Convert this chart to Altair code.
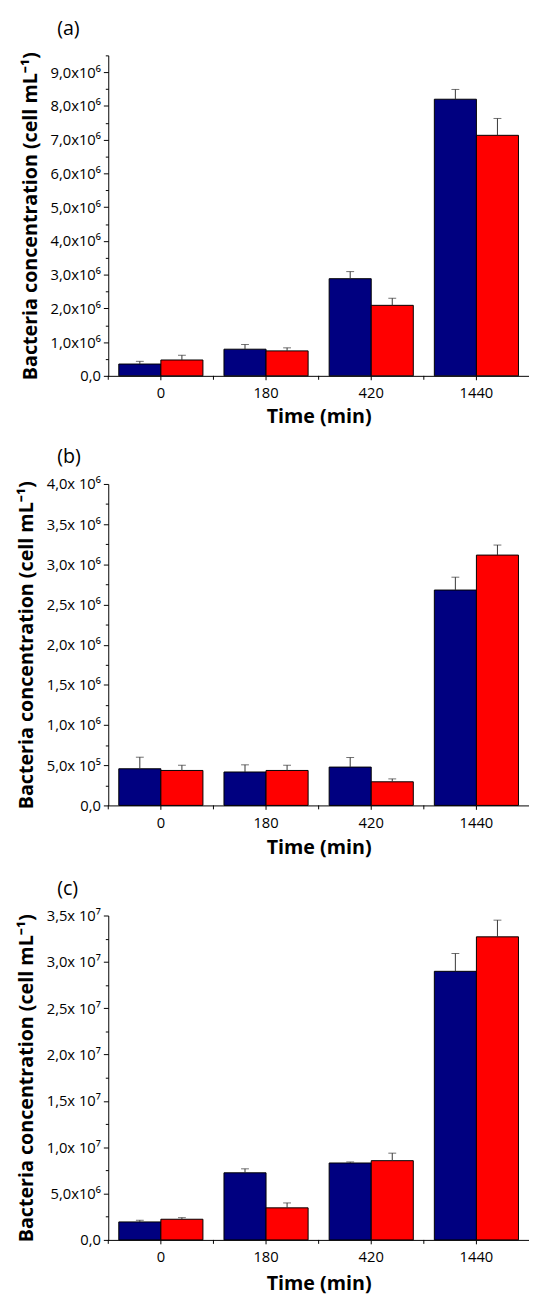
import altair as alt
import pandas as pd

times = ["0", "180", "420", "1440"]
series_names = ["Series 1", "Series 2"]
colors = ["#000080", "#FF0000"]

# Panel (a)
a_s1 = [0.35e6, 0.79e6, 2.88e6, 8.20e6]
a_s1_err = [0.08e6, 0.14e6, 0.21e6, 0.29e6]
a_s2 = [0.47e6, 0.74e6, 2.09e6, 7.13e6]
a_s2_err = [0.14e6, 0.09e6, 0.21e6, 0.50e6]

# Panel (b)
b_s1 = [0.456e6, 0.416e6, 0.477e6, 2.68e6]
b_s1_err = [0.144e6, 0.089e6, 0.119e6, 0.16e6]
b_s2 = [0.435e6, 0.435e6, 0.294e6, 3.115e6]
b_s2_err = [0.065e6, 0.065e6, 0.036e6, 0.125e6]

# Panel (c)
c_s1 = [1.94e6, 7.24e6, 8.30e6, 28.98e6]
c_s1_err = [0.18e6, 0.43e6, 0.11e6, 1.92e6]
c_s2 = [2.23e6, 3.46e6, 8.55e6, 32.7e6]
c_s2_err = [0.17e6, 0.53e6, 0.81e6, 1.80e6]

FONT = "Open Sans"
W = 428
YTITLE = "Bacteria concentration (cell mL\u207b\u00b9)"


def make_df(s1, e1, s2, e2):
    rows = []
    for i, t in enumerate(times):
        rows.append({"time": t, "series": series_names[0], "value": s1[i], "upper": s1[i] + e1[i]})
        rows.append({"time": t, "series": series_names[1], "value": s2[i], "upper": s2[i] + e2[i]})
    return pd.DataFrame(rows)


def panel(df, label, height, ymax, minor, major, label_body, xtitle_pad=6):
    test = f"abs(datum.value/{major} - round(datum.value/{major})) < 1e-6"
    lexpr = f"!({test}) ? '' : datum.value == 0 ? '0,0' : {label_body}"
    xaxis = alt.Axis(title="Time (min)", labelAngle=0, tickSize=4,
                     labelPadding=6, titlePadding=xtitle_pad)
    xscale = alt.Scale(paddingInner=0, paddingOuter=0)
    xoff = alt.XOffset("series:N", sort=series_names,
                       scale=alt.Scale(paddingOuter=0.25, paddingInner=0))
    yscale = alt.Scale(domain=[0, ymax], nice=False, zero=True)
    yaxis = alt.Axis(
        title=YTITLE,
        values=[float(v) for v in range(0, int(ymax) + 1, int(minor))],
        labelExpr=lexpr,
        labelOverlap=False,
        tickSize={"condition": {"test": test, "value": 5}, "value": 3},
        grid=False, labelPadding=3, titlePadding=10,
    )
    base = alt.Chart(df)
    bars = base.mark_bar(stroke="black", strokeWidth=1).encode(
        x=alt.X("time:N", sort=times, scale=xscale, axis=xaxis), xOffset=xoff,
        y=alt.Y("value:Q", scale=yscale, axis=yaxis),
        color=alt.Color("series:N", scale=alt.Scale(domain=series_names, range=colors), legend=None),
    )
    err = base.mark_rule(color="#333333", strokeWidth=1).encode(
        x=alt.X("time:N", sort=times, scale=xscale, axis=xaxis), xOffset=xoff,
        y=alt.Y("upper:Q", scale=yscale, axis=yaxis), y2="value:Q",
    )
    cap = base.mark_tick(color="#333333", thickness=1, size=8, orient="horizontal").encode(
        x=alt.X("time:N", sort=times, scale=xscale, axis=xaxis), xOffset=xoff,
        y=alt.Y("upper:Q", scale=yscale, axis=yaxis),
    )
    bticks = alt.Chart(pd.DataFrame({"time": times})).mark_rule(color="black").encode(
        x=alt.X("time:N", sort=times, bandPosition=0, scale=xscale, axis=xaxis),
        y=alt.value(height), y2=alt.value(height + 4),
    )
    return alt.layer(bars, err, cap, bticks).properties(
        width=W, height=height,
        title=alt.TitleParams(label, anchor="start", frame="group", dx=-52,
                              fontSize=20, fontWeight="normal", font=FONT,
                              color="black", offset=10),
    )


pa = panel(make_df(a_s1, a_s1_err, a_s2, a_s2_err), "(a)", 326, 9500000, 500000, 1000000,
           "replace(format(datum.value/1e6, '.1f'), '.', ',') + 'x10\u2076'")
pb = panel(make_df(b_s1, b_s1_err, b_s2, b_s2_err), "(b)", 327, 4000000, 250000, 500000,
           "datum.value < 1e6 ? replace(format(datum.value/1e5, '.1f'), '.', ',') + 'x 10\u2075' : "
           "replace(format(datum.value/1e6, '.1f'), '.', ',') + 'x 10\u2076'", xtitle_pad=8)
pc = panel(make_df(c_s1, c_s1_err, c_s2, c_s2_err), "(c)", 330, 35000000, 2500000, 5000000,
           "datum.value < 1e7 ? replace(format(datum.value/1e6, '.1f'), '.', ',') + 'x10\u2076' : "
           "replace(format(datum.value/1e7, '.1f'), '.', ',') + 'x 10\u2077'", xtitle_pad=9)

chart = alt.vconcat(pa, pb, pc, spacing=22).properties(
    padding={"left": 8, "top": 0, "right": 0, "bottom": 0},
).configure_view(stroke=None).configure_axis(
    domainColor="black", tickColor="black", labelColor="black", titleColor="black",
    labelFont=FONT, titleFont=FONT, labelFontSize=15, titleFontSize=20, titleFontWeight="bold",
)

chart.save("out.html", embed_options={"renderer": "svg", "actions": False})
